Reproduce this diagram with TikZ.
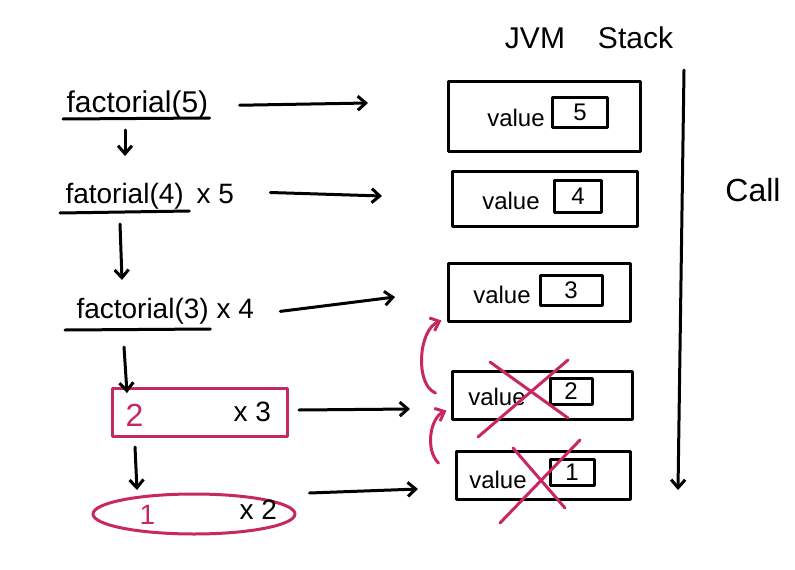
\documentclass[tikz,border=0pt]{standalone}
\usepackage{fontspec}
\setmainfont{Liberation Sans}
\usetikzlibrary{arrows.meta,shapes.geometric}
\definecolor{penred}{RGB}{198,40,100}
\begin{document}
\begin{tikzpicture}[x=1pt,y=-1pt,line width=3pt,line cap=round,line join=round,
  arr/.style={-{Straight Barb[length=8pt,width=14pt]}},
  hand/.style={font=\fontsize{28}{30}\selectfont,inner sep=0pt},
  small/.style={font=\fontsize{24}{28}\selectfont,inner sep=0pt},
  frame/.style={draw,inner sep=0pt},
  valbox/.style={draw,inner sep=0pt,font=\fontsize{24}{28}\selectfont},
  pen/.style={draw=penred,line width=3pt}]
\useasboundingbox (0,0) rectangle (795,570);

% title
\node[font=\fontsize{30}{34}\selectfont,inner sep=0pt] (title) at (589,38) {JVM\hspace{1.1em}Stack};
\node[font=\fontsize{32}{36}\selectfont,inner sep=0pt] (call) at (753,190) {Call};
\coordinate (ctop) at (684,70);
\coordinate (cbot) at (678,490);
\draw[arr] (ctop) -- (cbot);

% left column
\node[hand,anchor=base west,font=\fontsize{30}{32}\selectfont] (f5) at (65,112) {factorial(5)};
\draw ([shift={(-2,7)}]f5.base west) -- ([shift={(0,6)}]f5.base east);
\node[hand,anchor=base west] (f4) at (64,203) {fatorial(4)};
\node[hand,anchor=base west] (x5) at (195,203) {x 5};
\draw ([shift={(-4,10)}]f4.base west) -- ([shift={(4,8)}]f4.base east);
\node[hand,anchor=base west] (f3) at (75,318) {factorial(3)};
\node[hand,anchor=base west] (x4) at (215,318) {x 4};
\draw ([shift={(-10,12)}]f3.base west) -- ([shift={(0,11)}]f3.base east);

\node[draw=penred,minimum width=175,minimum height=48,inner sep=0pt] (m2) at (200,412) {};
\node[hand,text=penred,anchor=base west,font=\fontsize{32}{34}\selectfont] (n2) at (124,426) {2};
\node[hand,anchor=base west] (x3) at (232,421) {x 3};
\node[draw=penred,ellipse,minimum width=202,minimum height=40,inner sep=0pt] (m1) at (194,514) {};
\node[hand,text=penred,anchor=base west] (n1) at (138,524) {1};
\node[hand,anchor=base west] (x2) at (238,519) {x 2};

% down arrows
\coordinate (d1s) at (125,130); \coordinate (d1e) at (125,156);
\coordinate (d2s) at (120,224); \coordinate (d2e) at (122,280);
\coordinate (d3s) at (124,347); \coordinate (d3e) at (127,393);
\coordinate (d4s) at (135,447); \coordinate (d4e) at (137,490);
\draw[arr] (d1s) -- (d1e);
\draw[arr] (d2s) -- (d2e);
\draw[arr] (d3s) -- (d3e);
\draw[arr] (d4s) -- (d4e);

% stack frames
\node[frame,minimum width=192,minimum height=70] (s1) at (544,116) {};
\node[frame,minimum width=185,minimum height=55] (s2) at (545,199) {};
\node[frame,minimum width=182,minimum height=58] (s3) at (539,292) {};
\node[frame,minimum width=180,minimum height=48] (s4) at (542,395) {};
\node[frame,minimum width=174,minimum height=48] (s5) at (543,475) {};

\node[small] (w1) at (516,118) {value};
\node[valbox,minimum width=55,minimum height=30] (v1) at (580,112) {5};
\node[small] (w2) at (511,201) {value};
\node[valbox,minimum width=47,minimum height=32] (v2) at (578,196) {4};
\node[small] (w3) at (502,295) {value};
\node[valbox,minimum width=62,minimum height=30] (v3) at (571,290) {3};
\node[small] (w4) at (497,397) {value};
\node[valbox,minimum width=42,minimum height=26] (v4) at (571,391) {2};
\node[small] (w5) at (498,480) {value};
\node[valbox,minimum width=44,minimum height=26] (v5) at (572,472) {1};

% horizontal arrows
\coordinate (r1e) at (368,103);
\coordinate (r2e) at (382,196);
\coordinate (r3e) at (395,297);
\coordinate (r4e) at (410,409);
\coordinate (r5e) at (418,489);
\draw[arr] ([shift={(30,1)}]f5.east) -- (r1e);
\draw[arr] ([shift={(35,-1)}]x5.east) -- (r2e);
\draw[arr] ([shift={(25,3)}]x4.east) -- (r3e);
\draw[arr] ([shift={(10,-2)}]m2.east) -- (r4e);
\draw[arr] ([shift={(13,-21)}]m1.east) -- (r5e);

% crosses
\draw[pen] ([shift={(-64,42)}]s4.center) -- ([shift={(26,-35)}]s4.center);
\draw[pen] ([shift={(-52,-33)}]s4.center) -- ([shift={(26,23)}]s4.center);
\draw[pen] ([shift={(-43,48)}]s5.center) -- ([shift={(37,-35)}]s5.center);
\draw[pen] ([shift={(-30,-27)}]s5.center) -- ([shift={(22,33)}]s5.center);

% return arcs
\draw[pen,arr] ([shift={(-15,-2)}]s4.west) .. controls (415,385) and (418,330) .. ([shift={(-5,-2)}]s3.south west);
\draw[pen,arr] ([shift={(-16,-12)}]s5.west) .. controls (425,450) and (430,418) .. ([shift={(-4,-10)}]s4.south west);
\end{tikzpicture}
\end{document}
